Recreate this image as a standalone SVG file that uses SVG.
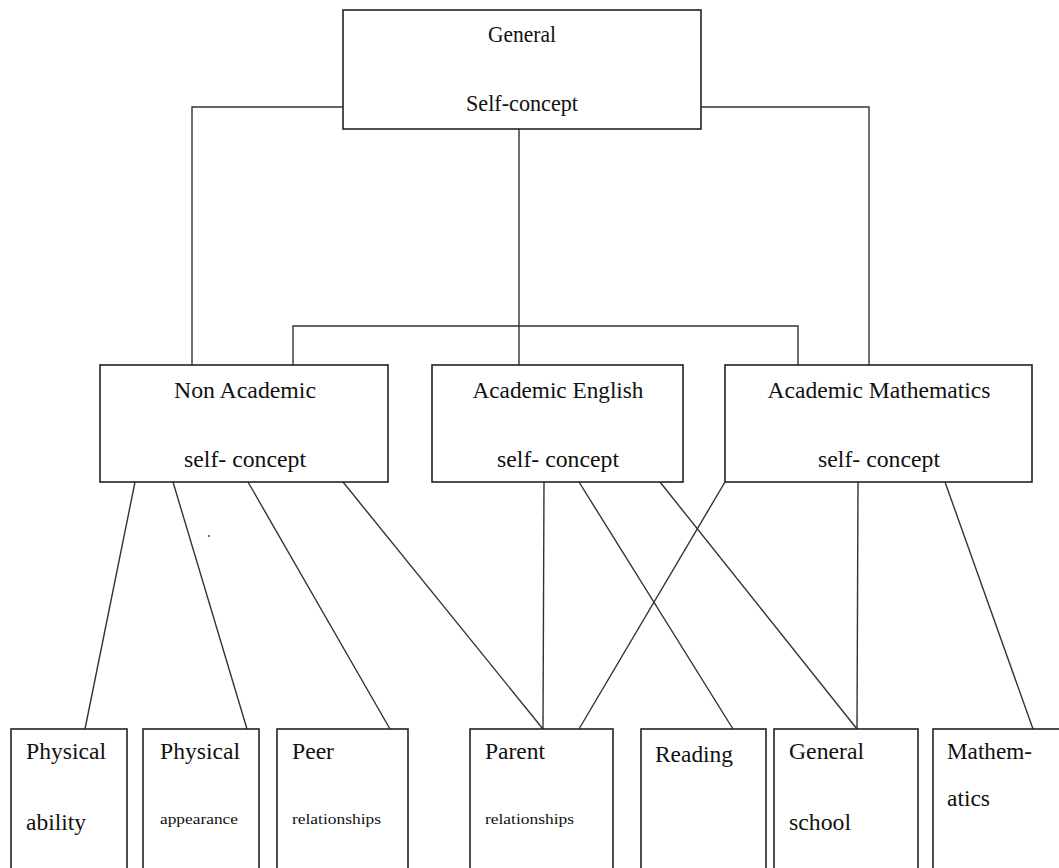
<svg xmlns="http://www.w3.org/2000/svg" width="1059" height="868" viewBox="0 0 1059 868">
<style>
.box{fill:#fff;stroke:#222;stroke-width:1.6}
.ln{stroke:#333;stroke-width:1.4;fill:none}
.nodes text{fill:#111}
.t{font-size:23.5px;text-anchor:middle}
.m{font-size:24px;text-anchor:middle}
.b{font-size:23.5px}
.s{font-size:15px}
</style>
<rect width="1059" height="868" fill="#fff"/>
<g id="connectors" class="ln">
<polyline points="351,107 192,107 192,365"/>
<line x1="519" y1="129" x2="519" y2="365"/>
<polyline points="701,107 869,107 869,365"/>
<polyline points="293,365 293,326 798,326 798,365"/>
<line x1="135" y1="482" x2="85" y2="729"/>
<line x1="173" y1="482" x2="247" y2="729"/>
<line x1="248" y1="482" x2="390" y2="729"/>
<line x1="343" y1="482" x2="543" y2="729"/>
<line x1="544" y1="482" x2="543" y2="729"/>
<line x1="579" y1="482" x2="733" y2="729"/>
<line x1="660" y1="482" x2="857" y2="729"/>
<line x1="725" y1="482" x2="579" y2="729"/>
<line x1="858" y1="482" x2="857" y2="729"/>
<line x1="945" y1="482" x2="1033" y2="729"/>
</g>
<g class="nodes" font-family="'Liberation Serif', 'DejaVu Serif', serif">
<g id="general">
<rect class="box" x="343" y="10" width="358" height="119"/>
<text class="t" x="522" y="42" textLength="68" lengthAdjust="spacingAndGlyphs">General</text>
<text class="t" x="522" y="111" textLength="112" lengthAdjust="spacingAndGlyphs">Self-concept</text>
</g>
<g id="nonacademic">
<rect class="box" x="100" y="365" width="288" height="117"/>
<text class="m" x="245" y="398" textLength="142" lengthAdjust="spacingAndGlyphs">Non Academic</text>
<text class="m" x="245" y="467" textLength="122" lengthAdjust="spacingAndGlyphs">self- concept</text>
</g>
<g id="english">
<rect class="box" x="432" y="365" width="251" height="117"/>
<text class="m" x="558" y="398" textLength="171" lengthAdjust="spacingAndGlyphs">Academic English</text>
<text class="m" x="558" y="467" textLength="122" lengthAdjust="spacingAndGlyphs">self- concept</text>
</g>
<g id="mathematics">
<rect class="box" x="725" y="365" width="307" height="117"/>
<text class="m" x="879" y="398" textLength="223" lengthAdjust="spacingAndGlyphs">Academic Mathematics</text>
<text class="m" x="879" y="467" textLength="122" lengthAdjust="spacingAndGlyphs">self- concept</text>
</g>
<g id="physical-ability">
<rect class="box" x="11" y="729" width="116" height="150"/>
<text class="b" x="26" y="759" textLength="80" lengthAdjust="spacingAndGlyphs">Physical</text>
<text class="b" x="26" y="830" textLength="60" lengthAdjust="spacingAndGlyphs">ability</text>
</g>
<g id="physical-appearance">
<rect class="box" x="143" y="729" width="116" height="150"/>
<text class="b" x="160" y="759" textLength="80" lengthAdjust="spacingAndGlyphs">Physical</text>
<text class="s" x="160" y="824" textLength="78" lengthAdjust="spacingAndGlyphs">appearance</text>
</g>
<g id="peer">
<rect class="box" x="277" y="729" width="131" height="150"/>
<text class="b" x="292" y="759" textLength="42" lengthAdjust="spacingAndGlyphs">Peer</text>
<text class="s" x="292" y="824" textLength="89" lengthAdjust="spacingAndGlyphs">relationships</text>
</g>
<g id="parent">
<rect class="box" x="470" y="729" width="143" height="150"/>
<text class="b" x="485" y="759" textLength="60" lengthAdjust="spacingAndGlyphs">Parent</text>
<text class="s" x="485" y="824" textLength="89" lengthAdjust="spacingAndGlyphs">relationships</text>
</g>
<g id="reading">
<rect class="box" x="641" y="729" width="125" height="150"/>
<text class="b" x="655" y="762" textLength="78" lengthAdjust="spacingAndGlyphs">Reading</text>
</g>
<g id="general-school">
<rect class="box" x="774" y="729" width="144" height="150"/>
<text class="b" x="789" y="759" textLength="75" lengthAdjust="spacingAndGlyphs">General</text>
<text class="b" x="789" y="830" textLength="62" lengthAdjust="spacingAndGlyphs">school</text>
</g>
<g id="mathem-atics">
<rect class="box" x="933" y="729" width="140" height="150"/>
<text class="b" x="947" y="759" textLength="85" lengthAdjust="spacingAndGlyphs">Mathem-</text>
<text class="b" x="947" y="806" textLength="43" lengthAdjust="spacingAndGlyphs">atics</text>
</g>
</g>
<circle cx="209" cy="536" r="0.9" fill="#333"/>
</svg>
